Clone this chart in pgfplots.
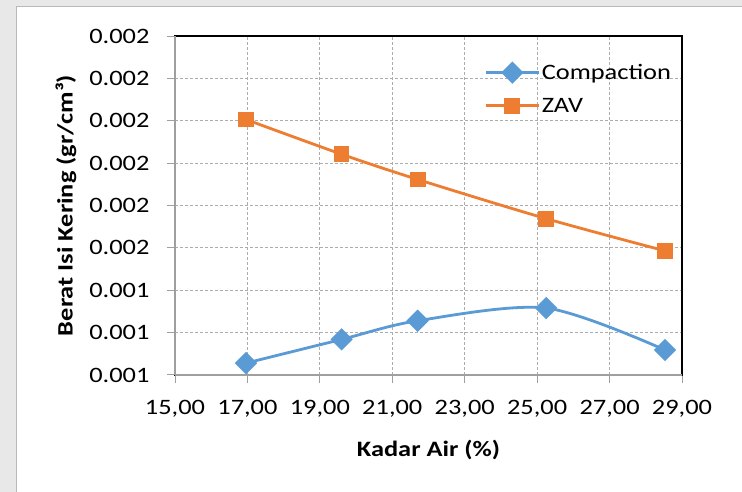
\documentclass[border=0pt]{standalone}
\usepackage{fontspec}
\setmainfont{Carlito}[FakeStretch=1.2]
\usepackage{pgfplots}
\pgfplotsset{compat=1.18}
\definecolor{compblue}{HTML}{5B9BD5}
\definecolor{zavorange}{HTML}{ED7D31}
\newcommand{\chartfont}{\fontsize{22}{26}\selectfont}

\begin{document}
\begin{tikzpicture}[x=1pt,y=1pt]
\useasboundingbox (0,0) rectangle (742,492);
% grey page round the chart, white chart area
\fill[gray!18] (0,0) rectangle (742,492);
\fill[white, draw=gray!55, line width=1pt] (16,-3) rectangle (745,485);
\begin{axis}[
    at={(175pt,117pt)}, anchor=south west,
    width=507pt, height=339pt, scale only axis,
    xmin=15, xmax=29, ymin=0.0012, ymax=0.0020,
    xtick={15,17,19,21,23,25,27,29},
    xticklabels={{15,00},{17,00},{19,00},{21,00},{23,00},{25,00},{27,00},{29,00}},
    ytick={0.0012,0.0013,0.0014,0.0015,0.0016,0.0017,0.0018,0.0019,0.0020},
    yticklabels={0.001,0.001,0.001,0.002,0.002,0.002,0.002,0.002,0.002},
    scaled y ticks=false, scaled x ticks=false,
    tick align=outside, major tick length=8pt,
    xtick pos=bottom, ytick pos=left,
    tick style={gray!75, line width=1pt},
    axis line style={black, line width=1.2pt},
    grid=major,
    grid style={gray!65, line width=0.9pt, dash pattern=on 3pt off 2pt},
    tick label style={font=\chartfont, text=black},
    xticklabel style={yshift=-14pt},
    yticklabel style={xshift=-14pt},
    xlabel={Kadar Air (\%)},
    ylabel={Berat Isi Kering (gr/cm³)},
    every axis x label/.style={at={(axis description cs:0.5,-0.221)}, anchor=center,
                               font=\chartfont\bfseries},
    every axis y label/.style={at={(axis description cs:-0.215,0.5)}, rotate=90, anchor=center,
                               font=\chartfont\bfseries},
    legend style={at={(axis description cs:0.611,0.923)}, anchor=north west,
                  draw=none, fill=none, inner sep=0pt, row sep=13pt,
                  font=\chartfont},
    legend cell align=left,
    legend image code/.code={\draw[mark repeat=2,mark phase=2,#1]
        plot coordinates {(0pt,0pt)(26pt,0pt)(52pt,0pt)};},
    clip=false,
  ]
  % left and bottom axis lines are grey in the original
  \draw[gray!75, line width=1.2pt] (rel axis cs:0,0) -- (rel axis cs:0,1);
  \draw[gray!75, line width=1.2pt] (rel axis cs:0,0) -- (rel axis cs:1,0);
  % Compaction
  \addplot[compblue, line width=2.8pt, smooth, tension=0.5,
           mark=square*, mark size=6.5pt, mark options={rotate=45, solid}]
    coordinates {
    (16.96,0.001228)(19.60,0.001284)(21.70,0.001328)(25.25,0.001358)(28.53,0.001259)
  };
  \addlegendentry{Compaction}
  % ZAV
  \addplot[zavorange, line width=2.8pt, smooth, tension=0.5,
           mark=square*, mark size=6.5pt, mark options={solid}]
    coordinates {
    (16.96,0.001803)(19.60,0.001721)(21.70,0.0016615)(25.25,0.001569)(28.53,0.001493)
  };
  \addlegendentry{ZAV}
\end{axis}
\end{tikzpicture}
\end{document}
